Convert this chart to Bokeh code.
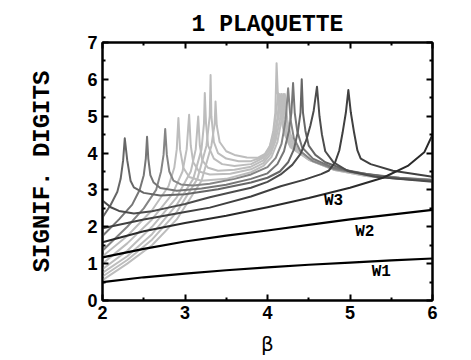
from bokeh.plotting import figure
from bokeh.models import LinearAxis, Label, FixedTicker
from bokeh.embed import file_html
from bokeh.resources import INLINE

# ---- data ----
w1_beta = [2, 2.5, 3, 3.5, 4, 4.5, 5, 5.5, 6]
w1_digits = [0.5, 0.63, 0.73, 0.82, 0.9, 0.97, 1.03, 1.09, 1.14]

w2_beta = [2, 2.5, 3, 3.5, 4, 4.5, 5, 5.5, 6]
w2_digits = [1.17, 1.4, 1.6, 1.76, 1.9, 2.05, 2.2, 2.33, 2.46]

w3_beta = [2, 2.5, 3, 3.5, 4, 4.5, 5, 5.4, 5.7, 5.9, 6]
w3_digits = [1.58, 1.88, 2.1, 2.3, 2.53, 2.78, 3.06, 3.33, 3.65, 4.02, 4.5]

w4_beta = [2, 2.5, 3, 3.3, 3.8, 4.16, 4.45, 4.65, 4.74, 4.82, 4.87, 4.91, 4.95, 4.98,
           5.01, 5.05, 5.09, 5.13, 5.25, 5.52, 6]
w4_digits = [1.96, 2.2, 2.4, 2.52, 2.82, 3.1, 3.28, 3.43, 3.52, 3.75, 4.07, 4.55, 5.1, 5.71,
             5.1, 4.55, 4.07, 3.85, 3.7, 3.52, 3.36]

w5_beta = [2, 2.1, 2.2, 2.38, 2.6, 2.8, 3.0, 3.3, 3.6, 3.8, 4.0, 4.16, 4.3, 4.4, 4.47,
           4.52, 4.56, 4.6, 4.63, 4.66, 4.7, 4.8, 4.97, 5.3, 6]
w5_digits = [2.71, 2.53, 2.43, 2.36, 2.42, 2.52, 2.62, 2.8, 2.96, 3.06, 3.22, 3.42, 3.68,
             3.98, 4.35, 4.75, 5.15, 5.8, 5.0, 4.5, 4.05, 3.75, 3.52, 3.36, 3.22]

w6_beta = [2.0, 2.1, 2.18, 2.22, 2.25, 2.27, 2.30, 2.34, 2.38, 2.5, 2.7, 3.0, 3.4, 3.8, 4.0,
           4.15, 4.25, 4.32, 4.37, 4.40, 4.415, 4.43, 4.46, 4.5, 4.58, 4.7, 5.0, 5.5, 6]
w6_digits = [2.25, 2.6, 2.95, 3.3, 3.8, 4.4, 3.8, 3.25, 3.07, 2.92, 2.85, 2.88, 3.02, 3.2,
             3.33, 3.5, 3.75, 4.1, 4.6, 5.1, 6.0, 5.1, 4.6, 4.2, 3.95, 3.75, 3.5, 3.33, 3.24]

w7_beta = [2.0, 2.2, 2.36, 2.45, 2.5, 2.525, 2.54, 2.555, 2.58, 2.62, 2.7, 2.9, 3.2, 3.5,
           3.8, 4.0, 4.12, 4.2, 4.26, 4.29, 4.31, 4.33, 4.36, 4.42, 4.55, 4.8, 5.2, 5.6, 6]
w7_digits = [1.75, 2.2, 2.6, 3.0, 3.4, 3.85, 4.44, 3.85, 3.4, 3.2, 3.05, 2.98, 3.04, 3.14,
             3.3, 3.45, 3.7, 4.05, 4.6, 5.1, 5.9, 5.1, 4.6, 4.15, 3.85, 3.6, 3.43, 3.33, 3.27]

w8_beta = [2.0, 2.3, 2.5, 2.65, 2.71, 2.74, 2.76, 2.78, 2.81, 2.86, 2.95, 3.1, 3.3, 3.6,
           3.8, 4.0, 4.1, 4.17, 4.22, 4.25, 4.28, 4.32, 4.4, 4.55, 4.8, 5.2, 5.6, 6]
w8_digits = [1.35, 2.0, 2.5, 3.0, 3.5, 3.95, 4.65, 3.95, 3.5, 3.25, 3.15, 3.12, 3.17, 3.3,
             3.42, 3.62, 3.87, 4.25, 4.9, 5.76, 4.9, 4.4, 4.05, 3.78, 3.57, 3.41, 3.32, 3.26]

w9_beta = [2.0, 2.3, 2.6, 2.8, 2.87, 2.9, 2.92, 2.94, 2.98, 3.05, 3.2, 3.5, 3.8, 3.95, 4.05,
           4.12, 4.17, 4.21, 4.24, 4.28, 4.35, 4.5, 4.8, 5.2, 5.6, 6]
w9_digits = [1.2, 1.75, 2.45, 3.1, 3.6, 4.1, 4.95, 4.1, 3.6, 3.35, 3.25, 3.3, 3.48, 3.65,
             3.9, 4.3, 4.9, 5.6, 4.9, 4.5, 4.15, 3.85, 3.6, 3.42, 3.33, 3.28]

w10_beta = [2.0, 2.3, 2.6, 2.85, 2.97, 3.02, 3.05, 3.07, 3.1, 3.17, 3.3, 3.55, 3.8, 3.95,
            4.04, 4.1, 4.15, 4.19, 4.22, 4.26, 4.33, 4.5, 4.8, 5.2, 5.6, 6]
w10_digits = [1.0, 1.55, 2.2, 2.9, 3.5, 4.1, 5.04, 4.2, 3.75, 3.5, 3.42, 3.44, 3.56, 3.73,
              3.98, 4.35, 4.9, 5.6, 4.9, 4.5, 4.15, 3.85, 3.58, 3.41, 3.32, 3.27]

w11_beta = [2.0, 2.3, 2.6, 2.9, 3.07, 3.13, 3.16, 3.18, 3.21, 3.28, 3.4, 3.6, 3.8, 3.95,
            4.03, 4.09, 4.13, 4.17, 4.2, 4.24, 4.31, 4.5, 4.8, 5.2, 5.6, 6]
w11_digits = [0.85, 1.35, 2.0, 2.8, 3.5, 4.1, 4.99, 4.2, 3.8, 3.6, 3.52, 3.55, 3.63, 3.8,
              4.03, 4.4, 4.95, 5.6, 4.95, 4.5, 4.15, 3.84, 3.57, 3.4, 3.31, 3.26]

w12_beta = [2.0, 2.3, 2.6, 2.9, 3.1, 3.2, 3.23, 3.24, 3.255, 3.28, 3.35, 3.45, 3.6, 3.8,
            3.95, 4.02, 4.08, 4.12, 4.15, 4.18, 4.22, 4.3, 4.5, 4.8, 5.2, 5.6, 6]
w12_digits = [0.75, 1.2, 1.8, 2.6, 3.3, 4.1, 4.8, 5.63, 4.8, 4.2, 3.85, 3.7, 3.65, 3.7,
              3.87, 4.08, 4.45, 4.95, 5.6, 4.95, 4.5, 4.15, 3.83, 3.56, 3.39, 3.3, 3.25]

w13_beta = [2.0, 2.3, 2.6, 2.9, 3.15, 3.26, 3.3, 3.31, 3.32, 3.35, 3.4, 3.5, 3.65, 3.8,
            3.95, 4.02, 4.07, 4.1, 4.13, 4.16, 4.2, 4.28, 4.5, 4.8, 5.2, 5.6, 6]
w13_digits = [0.65, 1.1, 1.65, 2.4, 3.3, 4.2, 5.0, 6.12, 5.0, 4.3, 4.0, 3.85, 3.78, 3.78,
              3.9, 4.12, 4.5, 5.0, 5.62, 5.0, 4.55, 4.15, 3.82, 3.55, 3.38, 3.3, 3.25]

w14_beta = [2.0, 2.3, 2.6, 2.9, 3.2, 3.32, 3.36, 3.37, 3.385, 3.42, 3.5, 3.6, 3.75, 3.88,
            3.97, 4.03, 4.07, 4.095, 4.11, 4.125, 4.15, 4.2, 4.26, 4.5, 4.8, 5.2, 5.6, 6]
w14_digits = [0.55, 1.0, 1.5, 2.2, 3.25, 4.2, 4.8, 5.4, 4.75, 4.3, 4.05, 3.95, 3.88, 3.87,
              3.98, 4.2, 4.6, 5.1, 6.44, 5.62, 5.2, 4.7, 4.25, 3.82, 3.55, 3.38, 3.3, 3.25]

x_ticks = [2, 3, 4, 5, 6]
y_ticks = [0, 1, 2, 3, 4, 5, 6, 7]
curve_labels = ["W1", "W2", "W3"]
curve_label_beta = [5.38, 5.18, 4.8]
curve_label_digits = [0.77, 1.85, 2.71]

# ---- figure ----
p = figure(frame_width=330, frame_height=258, x_range=(2, 6), y_range=(0, 7),
           output_backend="svg", toolbar_location=None,
           title="1 PLAQUETTE",
           min_border_left=102, min_border_right=20, min_border_top=42, min_border_bottom=56)
p.title.align = "center"
p.title.text_font = "Liberation Mono"
p.title.text_font_style = "bold"
p.title.text_font_size = "23px"
p.title.text_color = "black"
p.title.standoff = 10
p.grid.visible = False
p.outline_line_color = "black"
p.outline_line_width = 2
p.background_fill_color = "white"
p.border_fill_color = "white"

light = "#bdbdbd"
curves = [
    (w14_beta, w14_digits, light, 2.0),
    (w13_beta, w13_digits, light, 2.0),
    (w12_beta, w12_digits, light, 2.0),
    (w11_beta, w11_digits, light, 2.0),
    (w10_beta, w10_digits, light, 2.0),
    (w9_beta, w9_digits, light, 2.0),
    (w8_beta, w8_digits, "#858585", 2.0),
    (w7_beta, w7_digits, "#767676", 2.0),
    (w6_beta, w6_digits, "#666666", 2.0),
    (w5_beta, w5_digits, "#4c4c4c", 2.0),
    (w4_beta, w4_digits, "#404040", 2.0),
    (w3_beta, w3_digits, "#2a2a2a", 2.0),
    (w2_beta, w2_digits, "#000000", 2.2),
    (w1_beta, w1_digits, "#000000", 2.2),
]
for xs, ys, col, lw in curves:
    p.line(xs, ys, line_color=col, line_width=lw, line_join="round")

for t, bx, dy in zip(curve_labels, curve_label_beta, curve_label_digits):
    p.add_layout(Label(x=bx, y=dy, text=t, text_font="Liberation Mono", text_font_style="bold",
                       text_font_size="16px", text_align="center", text_baseline="middle",
                       text_color="black"))

def style_axis(ax, ticks, show_labels):
    ax.ticker = FixedTicker(ticks=ticks, minor_ticks=[t + 0.5 for t in ticks[:-1]])
    ax.axis_line_width = 2
    ax.axis_line_color = "black"
    ax.major_tick_in = 6
    ax.major_tick_out = 0
    ax.minor_tick_in = 3
    ax.minor_tick_out = 0
    ax.major_tick_line_width = 2
    ax.minor_tick_line_width = 2
    ax.major_tick_line_color = "black"
    ax.minor_tick_line_color = "black"
    if show_labels:
        ax.major_label_text_font = "Liberation Sans"
        ax.major_label_text_font_style = "bold"
        ax.major_label_text_font_size = "18px"
        ax.major_label_text_color = "black"
    else:
        ax.major_label_overrides = {t: "" for t in ticks}
        ax.major_label_standoff = 0

xa = p.xaxis[0]
ya = p.yaxis[0]
style_axis(xa, x_ticks, True)
style_axis(ya, y_ticks, True)
xa.major_label_standoff = 5
ya.major_label_standoff = 5
xa.axis_label = "β"
xa.axis_label_text_font = "DejaVu Sans"
xa.axis_label_text_font_style = "normal"
xa.axis_label_text_font_size = "20px"
xa.axis_label_text_color = "black"
xa.axis_label_standoff = 10
ya.axis_label = "SIGNIF. DIGITS"
ya.axis_label_text_font = "Liberation Mono"
ya.axis_label_text_font_style = "bold"
ya.axis_label_text_font_size = "24px"
ya.axis_label_text_color = "black"
ya.axis_label_standoff = 28

ra = LinearAxis()
style_axis(ra, y_ticks, False)
p.add_layout(ra, "right")
ta = LinearAxis()
style_axis(ta, x_ticks, False)
p.add_layout(ta, "above")

open("out.html", "w").write(file_html(p, INLINE))
